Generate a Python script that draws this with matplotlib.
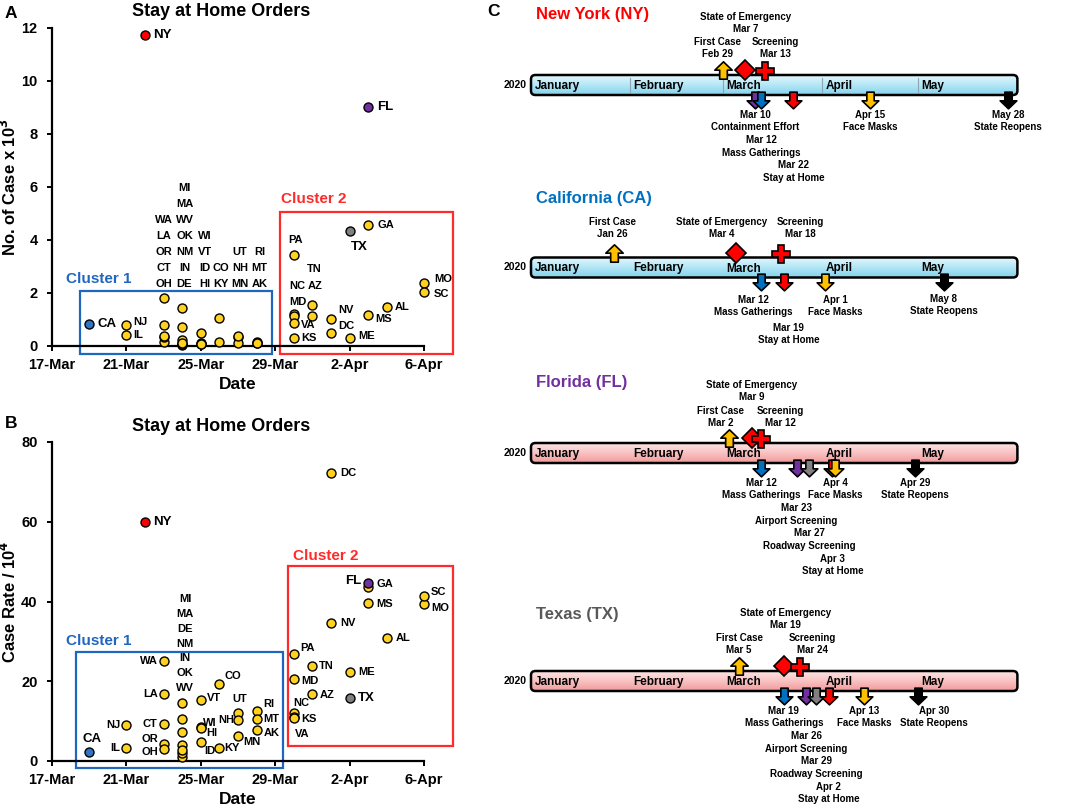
import numpy as np
import matplotlib
matplotlib.use('Agg')
import matplotlib.pyplot as plt
from matplotlib.patches import Rectangle, FancyBboxPatch
from matplotlib.path import Path
from matplotlib.colors import LinearSegmentedColormap

plt.rcParams['font.family'] = ['Liberation Sans', 'DejaVu Sans']
plt.rcParams['font.weight'] = 'bold'
plt.rcParams['axes.labelweight'] = 'bold'

W, H = 1069, 808

# ---------------- panels A / B data ----------------
states = ['CA', 'NJ', 'IL', 'NY', 'WA', 'LA', 'OR', 'CT', 'OH', 'MI', 'MA', 'WV', 'OK', 'NM', 'IN',
          'DE', 'WI', 'VT', 'ID', 'HI', 'CO', 'KY', 'UT', 'NH', 'MN', 'RI', 'MT', 'AK', 'PA', 'MD',
          'NC', 'VA', 'KS', 'TN', 'AZ', 'NV', 'DC', 'TX', 'ME', 'GA', 'FL', 'MS', 'AL', 'MO', 'SC']
order_dates = ['03-19', '03-21', '03-21', '03-22', '03-23', '03-23', '03-23', '03-23', '03-23',
               '03-24', '03-24', '03-24', '03-24', '03-24', '03-24', '03-24', '03-25', '03-25',
               '03-25', '03-25', '03-26', '03-26', '03-27', '03-27', '03-27', '03-28', '03-28',
               '03-28', '03-30', '03-30', '03-30', '03-30', '03-30', '03-31', '03-31', '04-01',
               '04-01', '04-02', '04-02', '04-03', '04-03', '04-03', '04-04', '04-06', '04-06']
# cases (x 10^3) at the date of the stay at home order
cases_k = [0.82, 0.79, 0.41, 11.75, 1.82, 0.79, 0.16, 0.33, 0.36, 1.45, 0.72, 0.02, 0.06, 0.08, 0.23,
           0.10, 0.48, 0.10, 0.08, 0.09, 1.06, 0.14, 0.35, 0.13, 0.36, 0.14, 0.12, 0.10, 3.42, 1.21,
           1.14, 0.87, 0.31, 1.56, 1.14, 1.00, 0.48, 4.35, 0.29, 4.57, 9.00, 1.17, 1.48, 2.38, 2.04]
# case rate per 10^4
rate_10k = [2.17, 8.94, 3.34, 59.9, 25.1, 16.9, 4.18, 9.2, 3.0, 14.5, 10.6, 1.0, 1.92, 4.1, 2.76,
            7.2, 8.5, 15.3, 4.85, 8.2, 19.3, 3.18, 12.1, 10.2, 6.27, 12.5, 10.5, 7.8, 26.9, 20.6,
            12.0, 11.1, 10.8, 23.7, 16.7, 34.7, 72.3, 15.7, 22.3, 43.6, 44.6, 39.5, 30.8, 39.3, 41.5]
tick_labels = ['17-Mar', '21-Mar', '25-Mar', '29-Mar', '2-Apr', '6-Apr']

day = (np.array(['2020-' + s for s in order_dates], dtype='datetime64[D]')
       - np.datetime64('2020-03-17')).astype(int)

special = {'NY': '#FF0000', 'CA': '#2E75C6', 'FL': '#7030A0', 'TX': '#808080'}
big = {'NY', 'CA', 'FL', 'TX'}
yellow = '#FFD21F'

# label placement (offset pixels, alignment)
labels_A = {'NY': (8, 0, 'left'), 'CA': (8, 0, 'left'), 'NJ': (7, 3, 'left'), 'IL': (7, 0, 'left'),
            'FL': (9, 0, 'left'), 'GA': (9, 0, 'left'), 'TX': (10, -16, 'center'),
            'PA': (2, 15, 'center'), 'TN': (2, 36, 'center'), 'AZ': (3, 30, 'center'),
            'NC': (3, 30, 'center'), 'MD': (4, 12, 'center'), 'VA': (7, -2, 'left'),
            'KS': (7, 0, 'left'), 'NV': (15, 9, 'center'), 'DC': (7, 7, 'left'),
            'ME': (9, 2, 'left'), 'MS': (7, -4, 'left'), 'AL': (8, 0, 'left'),
            'MO': (10, 4, 'left'), 'SC': (10, -2, 'left')}
columns_A = [(6.0, ['WA', 'LA', 'OR', 'CT', 'OH']),
             (7.12, ['MI', 'MA', 'WV', 'OK', 'NM', 'IN', 'DE']),
             (8.2, ['WI', 'VT', 'ID', 'HI']),
             (9.1, ['CO', 'KY']),
             (10.1, ['UT', 'NH', 'MN']),
             (11.15, ['RI', 'MT', 'AK'])]
labels_B = {'NY': (8, 0, 'left'), 'CA': (3, 13, 'center'), 'NJ': (-6, 0, 'right'),
            'IL': (-6, 0, 'right'), 'WA': (-6, 0, 'right'), 'LA': (-6, 0, 'right'),
            'CT': (-6, 0, 'right'), 'OR': (-5, 5, 'right'), 'OH': (-5, -3, 'right'),
            'VT': (6, 2, 'left'), 'WI': (2, 4, 'left'), 'HI': (5, -5, 'left'), 'ID': (3, -9, 'left'),
            'CO': (5, 8, 'left'), 'KY': (5, 0, 'left'), 'UT': (2, 14, 'center'),
            'NH': (-4, 0, 'right'), 'MN': (5, -6, 'left'), 'RI': (7, 7, 'left'), 'MT': (7, 0, 'left'),
            'AK': (7, -3, 'left'), 'FL': (-7, 2, 'right'), 'GA': (8, 3, 'left'), 'SC': (7, 4, 'left'),
            'MO': (7, -4, 'left'), 'MS': (8, -1, 'left'), 'NV': (9, 0, 'left'), 'AL': (9, 0, 'left'),
            'PA': (6, 6, 'left'), 'TN': (6, 0, 'left'), 'ME': (9, 0, 'left'), 'MD': (7, -2, 'left'),
            'AZ': (7, -1, 'left'), 'TX': (8, 0, 'left'), 'NC': (7, 10, 'center'),
            'KS': (7, -1, 'left'), 'VA': (8, -17, 'center'), 'DC': (9, 0, 'left')}
columns_B = [(7.15, ['MI', 'MA', 'DE', 'NM', 'IN', 'OK', 'WV'])]

# ---------------- panel C data ----------------
ny_up = [('First Case', '2020-02-29'), ('State of Emergency', '2020-03-07'), ('Screening', '2020-03-13')]
ny_down = [('Containment Effort', '2020-03-10'), ('Mass Gatherings', '2020-03-12'),
           ('Stay at Home', '2020-03-22'), ('Face Masks', '2020-04-15'), ('State Reopens', '2020-05-28')]
ca_up = [('First Case', '2020-01-26'), ('State of Emergency', '2020-03-04'), ('Screening', '2020-03-18')]
ca_down = [('Mass Gatherings', '2020-03-12'), ('Stay at Home', '2020-03-19'),
           ('Face Masks', '2020-04-01'), ('State Reopens', '2020-05-08')]
fl_up = [('First Case', '2020-03-02'), ('State of Emergency', '2020-03-09'), ('Screening', '2020-03-12')]
fl_down = [('Mass Gatherings', '2020-03-12'), ('Airport Screening', '2020-03-23'),
           ('Roadway Screening', '2020-03-27'), ('Stay at Home', '2020-04-03'),
           ('Face Masks', '2020-04-04'), ('State Reopens', '2020-04-29')]
tx_up = [('First Case', '2020-03-05'), ('State of Emergency', '2020-03-19'), ('Screening', '2020-03-24')]
tx_down = [('Mass Gatherings', '2020-03-19'), ('Airport Screening', '2020-03-26'),
           ('Roadway Screening', '2020-03-29'), ('Stay at Home', '2020-04-02'),
           ('Face Masks', '2020-04-13'), ('State Reopens', '2020-04-30')]
months = ['January', 'February', 'March', 'April', 'May']

# text layout per event: (dx in px, row)
ny_up_lay = [(-5, 1), (0, 2), (11, 1)]
ny_down_lay = [(0, 1), (0, 2), (0, 3), (0, 1), (0, 1)]
ca_up_lay = [(-2, 1.1), (-14, 1.1), (20, 1.1)]
ca_down_lay = [(-8, 1.1), (5, 2.2), (10, 1.1), (0, 1.05)]
fl_up_lay = [(-9, 0.95), (0, 2), (19, 0.95)]
fl_down_lay = [(0, 1), (0, 2), (0, 3), (1, 4), (0, 1), (0, 1)]
tx_up_lay = [(0, 1), (2, 2), (13, 1)]
tx_down_lay = [(0, 1), (0, 2), (1, 3), (0, 4), (0, 1), (16, 1)]

policy_colors = {'Containment Effort': '#7030A0', 'Airport Screening': '#7030A0',
                 'Mass Gatherings': '#0070C0', 'Roadway Screening': '#808080',
                 'Stay at Home': '#FF0000', 'Face Masks': '#FFC000', 'State Reopens': '#000000'}

up_arrow = Path([(-0.22, -0.5), (0.22, -0.5), (0.22, 0.02), (0.5, 0.02), (0, 0.5),
                 (-0.5, 0.02), (-0.22, 0.02), (-0.22, -0.5)], closed=True)
down_arrow = Path([(x, -y) for x, y in up_arrow.vertices], closed=True)
up_styles = {'First Case': (up_arrow, '#FFC000', 12.5, -4.7),
             'State of Emergency': ('D', '#FF0000', 10.5, -5),
             'Screening': ('P', '#FF0000', 13, -4)}

fig = plt.figure(figsize=(W / 100, H / 100), dpi=100)


def fig_text(px, py, s, **kw):
    fig.text(px / W, 1 - py / H, s, **kw)


def scatter_panel(ax, values, labels, columns, col_rows, ymax, yticks, ylabel):
    vals = np.array(values)
    col = [special.get(s, yellow) for s in states]
    order = [i for i, s in enumerate(states) if s not in special] + \
            [i for i, s in enumerate(states) if s in special]
    for i in order:
        ax.scatter(day[i], vals[i], s=42, color=col[i], edgecolor='black', linewidth=1.0,
                   zorder=3, clip_on=False)
    for i, s in enumerate(states):
        if s in labels:
            dx, dy, ha = labels[s]
            ax.annotate(s, (day[i], vals[i]), xytext=(dx, dy), textcoords='offset pixels',
                        ha=ha, va='center', fontsize=9.5 if s in big else 8, zorder=4)
    y0, step = col_rows
    for x, names in columns:
        for k, s in enumerate(names[::-1]):
            ax.text(x, y0 + k * step, s, ha='center', va='center', fontsize=8)
    ax.set_xlim(0, 20)
    ax.set_ylim(0, ymax)
    ax.set_xticks(range(0, 21, 4))
    ax.set_xticklabels(tick_labels)
    ax.set_yticks(yticks)
    for sp in ['top', 'right']:
        ax.spines[sp].set_visible(False)
    for sp in ['left', 'bottom']:
        ax.spines[sp].set_linewidth(1.6)
    ax.tick_params(axis='both', width=1.4, length=3.8, labelsize=10.5, color='black')
    ax.tick_params(axis='x', pad=4.5)
    ax.tick_params(axis='y', pad=6.5)
    ax.set_ylabel(ylabel, fontsize=12, fontweight='bold')
    ax.yaxis.set_label_coords(-0.09, 0.5)
    ax.set_xlabel('Date', fontsize=12.5, fontweight='bold')
    ax.xaxis.set_label_coords(0.5, -0.097)


def cluster(ax, x0, x1, y0, y1, color, text, tx, ty):
    ax.add_patch(Rectangle((x0, y0), x1 - x0, y1 - y0, fill=False, edgecolor=color,
                           linewidth=1.6, clip_on=False, zorder=2))
    ax.text(tx, ty, text, color=color, fontsize=11, ha='center', va='center')


# ---------------- panel A ----------------
axA = fig.add_axes([52 / W, 1 - 346 / H, 372 / W, 318 / H])
scatter_panel(axA, cases_k, labels_A, columns_A, (2.34, 0.604), 12, range(0, 13, 2),
              'No. of Case x 10$^\\mathbf{3}$')
cluster(axA, 1.53, 11.84, -0.3, 2.08, '#1F66C1', 'Cluster 1', 2.54, 2.53)
cluster(axA, 12.27, 21.57, -0.3, 5.05, '#FF2A2A', 'Cluster 2', 14.08, 5.55)

# ---------------- panel B ----------------
axB = fig.add_axes([52 / W, 1 - 761 / H, 372 / W, 319 / H])
scatter_panel(axB, rate_10k, labels_B, columns_B, (18.3, 3.72), 80, range(0, 81, 20),
              'Case Rate / 10$^\\mathbf{4}$')
cluster(axB, 1.3, 12.43, -1.7, 27.3, '#1F66C1', 'Cluster 1', 2.54, 30.2)
cluster(axB, 12.69, 21.55, 3.84, 48.9, '#FF2A2A', 'Cluster 2', 14.7, 51.4)

axA.text(0.455, 1.0 + 8 / 318, 'Stay at Home Orders', transform=axA.transAxes, ha='center',
         va='bottom', fontsize=13)
axB.text(0.455, 1.0 + 7 / 319, 'Stay at Home Orders', transform=axB.transAxes, ha='center',
         va='bottom', fontsize=13)
fig_text(11, 14, 'A', fontsize=12.5, ha='center', va='center')
fig_text(11, 424, 'B', fontsize=12.5, ha='center', va='center')
fig_text(494, 12, 'C', fontsize=12.5, ha='center', va='center')

# ---------------- panel C ----------------
axC = fig.add_axes([490 / W, 0, 1 - 490 / W, 1])
axC.axis('off')

jan1 = np.datetime64('2020-01-01')


def doy(s):
    return int((np.datetime64(s) - jan1).astype(int)) + 1


def date_txt(s):
    d = np.datetime64(s).astype(object)
    return f"{d:%b} {d.day}"


month_start = [int((np.datetime64(f'2020-{m:02d}-01') - jan1).astype(int)) for m in range(1, 7)]
blue_cmap = LinearSegmentedColormap.from_list('b', ['#e4f7fd', '#b3e7f6', '#86d3ec'])
pink_cmap = LinearSegmentedColormap.from_list('p', ['#fde4e4', '#f9c2c2', '#f39a9a'])

timelines = [
    ('New York (NY)', '#FF0000', 85, 15, blue_cmap, True, ny_up, ny_up_lay, ny_down, ny_down_lay),
    ('California (CA)', '#0070C0', 267.5, 198, blue_cmap, False, ca_up, ca_up_lay, ca_down, ca_down_lay),
    ('Florida (FL)', '#7030A0', 453, 383, pink_cmap, False, fl_up, fl_up_lay, fl_down, fl_down_lay),
    ('Texas (TX)', '#595959', 681, 615, pink_cmap, False, tx_up, tx_up_lay, tx_down, tx_down_lay),
]

for title, tcol, yc, ty, cmap, seps, up, up_lay, down, down_lay in timelines:
    top, bot = yc - 10, yc + 10
    x0, x1 = month_start[0], month_start[-1]
    bar = FancyBboxPatch((x0, top), x1 - x0, bot - top,
                         boxstyle='round,pad=0,rounding_size=1.4', mutation_aspect=3.0,
                         facecolor='none', edgecolor='black', linewidth=1.8, zorder=2)
    axC.add_patch(bar)
    grad = np.linspace(0, 1, 64).reshape(-1, 1)
    im = axC.imshow(grad, extent=(x0, x1, bot, top), origin='upper', aspect='auto',
                    cmap=cmap, zorder=1)
    im.set_clip_path(bar)
    if seps:
        for m in month_start[1:-1]:
            axC.plot([m, m], [top + 3, bot - 3], color='#8aa6b0', linewidth=0.8, zorder=2)
    for m, name in zip(month_start[:-1], months):
        axC.text(m + 1.1, yc + 1, name, ha='left', va='center', fontsize=8.5, zorder=3)
    axC.text(-1.5, yc, '2020', ha='right', va='center', fontsize=7.5)
    axC.text(1.6, ty, title, color=tcol, ha='left', va='center', fontsize=12)

    for (name, d), (dx, row) in zip(up, up_lay):
        x = doy(d)
        mk, c, ms, off = up_styles[name]
        axC.plot(x, top + off, marker=mk, markersize=ms, color=c, markeredgecolor='black',
                 markeredgewidth=1.2, linestyle='none', zorder=4)
        axC.text(x + dx / 3.2, top - 27 - 25 * (row - 1), f'{name}\n{date_txt(d)}',
                 ha='center', va='center', fontsize=7, linespacing=1.3)
    for (name, d), (dx, row) in zip(down, down_lay):
        x = doy(d)
        axC.plot(x, bot + 4.5, marker=down_arrow, markersize=12, color=policy_colors[name],
                 markeredgecolor='black', markeredgewidth=1.2, linestyle='none', zorder=4)
        axC.text(x + dx / 3.2, bot + 26 + 25.3 * (row - 1), f'{date_txt(d)}\n{name}',
                 ha='center', va='center', fontsize=7, linespacing=1.3)

axC.set_xlim((490 - 531) / 3.2, (1069 - 531) / 3.2)
axC.set_ylim(H, 0)

fig.savefig('out.png', dpi=100)
